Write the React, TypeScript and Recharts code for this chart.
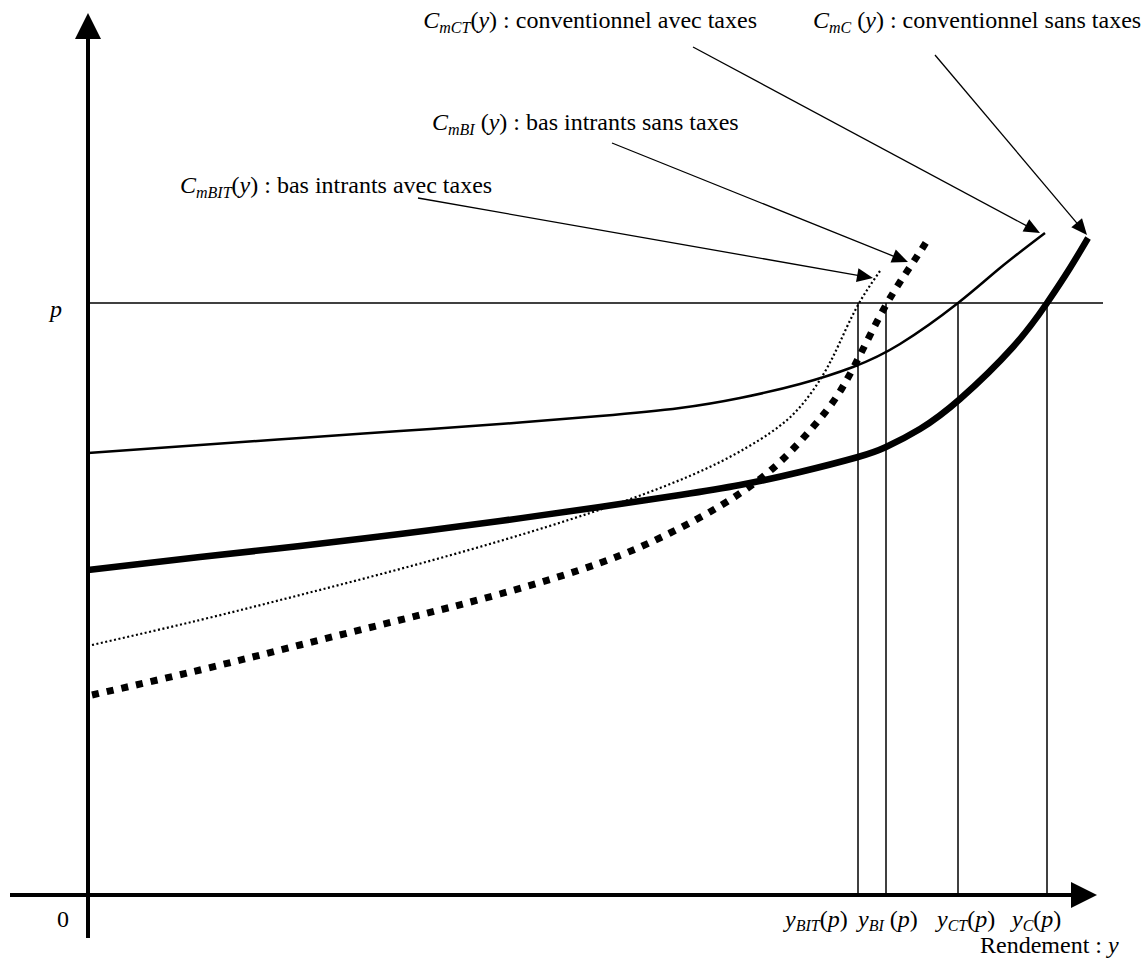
import { LineChart, Line, XAxis, YAxis, ReferenceLine, ReferenceDot } from "recharts";

type Pt = { x: number; y: number };

// price level p and the yields where each marginal cost curve meets it
const P = 592;
const yieldAtP = [770, 798, 870, 959];

// C_mC(y) : conventionnel sans taxes (thick solid)
const convSansTaxes: Pt[] = [
  { x: 0, y: 325 }, { x: 112, y: 338 }, { x: 212, y: 349 }, { x: 312, y: 361 },
  { x: 412, y: 374 }, { x: 512, y: 388 }, { x: 592, y: 400 }, { x: 652, y: 410 },
  { x: 712, y: 423 }, { x: 770, y: 438 }, { x: 798, y: 448 }, { x: 832, y: 466 },
  { x: 872, y: 496 }, { x: 925, y: 548 }, { x: 959, y: 592 }, { x: 982, y: 627 },
  { x: 1000, y: 657 },
];

// C_mCT(y) : conventionnel avec taxes (thin solid)
const convAvecTaxes: Pt[] = [
  { x: 0, y: 442 }, { x: 112, y: 450 }, { x: 212, y: 457 }, { x: 312, y: 464 },
  { x: 412, y: 471 }, { x: 512, y: 479 }, { x: 592, y: 487 }, { x: 652, y: 497 },
  { x: 712, y: 511 }, { x: 765, y: 528 }, { x: 812, y: 551 }, { x: 870, y: 592 },
  { x: 912, y: 627 }, { x: 957, y: 662 },
];

// C_mBI(y) : bas intrants sans taxes (heavy square dashes)
const basSansTaxes: Pt[] = [
  { x: 4, y: 200 }, { x: 112, y: 225 }, { x: 212, y: 250 }, { x: 312, y: 275 },
  { x: 412, y: 301 }, { x: 512, y: 332 }, { x: 582, y: 362 }, { x: 632, y: 389 },
  { x: 672, y: 416 }, { x: 705, y: 446 }, { x: 739, y: 485 }, { x: 757, y: 512 },
  { x: 772, y: 540 }, { x: 798, y: 590 }, { x: 822, y: 628 }, { x: 839, y: 654 },
];

// C_mBIT(y) : bas intrants avec taxes (fine dots)
const basAvecTaxes: Pt[] = [
  { x: 4, y: 250 }, { x: 112, y: 275 }, { x: 212, y: 300 }, { x: 312, y: 326 },
  { x: 412, y: 354 }, { x: 502, y: 382 }, { x: 572, y: 407 }, { x: 632, y: 433 },
  { x: 682, y: 462 }, { x: 712, y: 488 }, { x: 735, y: 520 }, { x: 752, y: 553 },
  { x: 770, y: 590 }, { x: 792, y: 624 },
];

// callout texts: subscript, gap before "(y)", text after "(y)"
const curveSubs = ["mCT", "mC", "mBI", "mBIT"];
const curveGap = ["", " ", " ", ""];
const curveText = [
  " : conventionnel avec taxes",
  " : conventionnel sans taxes",
  " : bas intrants sans taxes",
  " : bas intrants avec taxes",
];
const calloutAt: Pt[] = [
  { x: 669, y: 867 }, { x: 725, y: 867 }, { x: 344, y: 765 }, { x: 92, y: 702 },
];
const calloutAnchor = ["end", "start", "start", "start"];
const calloutFrom: Pt[] = [
  { x: 605, y: 848 }, { x: 847, y: 840 }, { x: 524, y: 752 }, { x: 330, y: 697 },
];
const calloutTo: Pt[] = [
  { x: 952, y: 662 }, { x: 999, y: 660 }, { x: 820, y: 633 }, { x: 785, y: 617 },
];

// labels under the x axis
const tickSubs = ["BIT", "BI", "CT", "C"];
const tickGap = ["", " ", "", ""];
const tickStart = [697, 770, 849, 924];

const W = 1147;
const H = 960;
const FONT = "'Liberation Serif', 'Times New Roman', serif";
const FS = 24;
const SUB = 16;

function arrow(head: number, half: number, sw: number) {
  return (props: any) => {
    const { x1, y1, x2, y2 } = props;
    const dx = x2 - x1;
    const dy = y2 - y1;
    const len = Math.hypot(dx, dy) || 1;
    const ux = dx / len;
    const uy = dy / len;
    const bx = x2 - ux * head;
    const by = y2 - uy * head;
    const nx = -uy * half;
    const ny = ux * half;
    return (
      <g>
        <line x1={x1} y1={y1} x2={bx + ux * 2} y2={by + uy * 2} stroke="#000" strokeWidth={sw} />
        <polygon points={`${x2},${y2} ${bx + nx},${by + ny} ${bx - nx},${by - ny}`} fill="#000" />
      </g>
    );
  };
}

function textShape(render: (x: number, y: number) => any) {
  return (props: any) => render(props.cx, props.cy);
}

export default function App() {
  return (
    <div style={{ width: W, height: H, background: "#fff" }}>
      <style>{"body{margin:0;background:#fff}"}</style>
      <LineChart width={W} height={H} margin={{ top: 0, right: 0, bottom: 0, left: 0 }}>
        <XAxis type="number" dataKey="x" domain={[-88, 1059]} hide />
        <YAxis type="number" dataKey="y" domain={[-65, 895]} hide />

        {/* axes */}
        <ReferenceLine segment={[{ x: 0, y: -43 }, { x: 0, y: 882 }]} shape={arrow(26, 13, 4)} />
        <ReferenceLine segment={[{ x: -78, y: 0 }, { x: 1009, y: 0 }]} shape={arrow(26, 13, 4)} />

        {/* price line and yields */}
        <ReferenceLine segment={[{ x: 0, y: P }, { x: 1015, y: P }]} stroke="#000" strokeWidth={1.5} />
        {yieldAtP.map((v) => (
          <ReferenceLine key={v} segment={[{ x: v, y: 0 }, { x: v, y: P }]} stroke="#000" strokeWidth={1.5} />
        ))}

        <Line data={convAvecTaxes} dataKey="y" type="natural" stroke="#000" strokeWidth={2.5}
          dot={false} activeDot={false} isAnimationActive={false} />
        <Line data={convSansTaxes} dataKey="y" type="natural" stroke="#000" strokeWidth={6.5}
          dot={false} activeDot={false} isAnimationActive={false} />
        <Line data={basAvecTaxes} dataKey="y" type="natural" stroke="#000" strokeWidth={2.2}
          strokeDasharray="2 2.5" dot={false} activeDot={false} isAnimationActive={false} />
        <Line data={basSansTaxes} dataKey="y" type="natural" stroke="#000" strokeWidth={7}
          strokeDasharray="7 8" dot={false} activeDot={false} isAnimationActive={false} />

        {/* callouts */}
        {calloutFrom.map((f, i) => (
          <ReferenceLine key={`a${i}`} segment={[f, calloutTo[i]]} shape={arrow(16, 7, 1.3)} />
        ))}
        {calloutAt.map((pt, i) => (
          <ReferenceDot
            key={`t${i}`}
            x={pt.x}
            y={pt.y}
            r={0}
            shape={textShape((x, y) => (
              <text x={x} y={y} fontFamily={FONT} fontSize={FS} fill="#000" textAnchor={calloutAnchor[i]}>
                <tspan fontStyle="italic">C</tspan>
                <tspan fontStyle="italic" fontSize={SUB} dy={5}>{curveSubs[i]}</tspan>
                <tspan dy={-5}>{curveGap[i]}(</tspan>
                <tspan fontStyle="italic">y</tspan>
                <tspan>){curveText[i]}</tspan>
              </text>
            ))}
          />
        ))}

        {/* axis labels */}
        {tickStart.map((x, i) => (
          <ReferenceDot
            key={`k${i}`}
            x={x}
            y={-32}
            r={0}
            shape={textShape((px, py) => (
              <text x={px} y={py} fontFamily={FONT} fontSize={FS} fill="#000">
                <tspan fontStyle="italic">y</tspan>
                <tspan fontStyle="italic" fontSize={SUB} dy={4}>{tickSubs[i]}</tspan>
                <tspan dy={-4}>{tickGap[i]}(</tspan>
                <tspan fontStyle="italic">p</tspan>
                <tspan>)</tspan>
              </text>
            ))}
          />
        ))}
        <ReferenceDot
          x={892}
          y={-58}
          r={0}
          shape={textShape((x, y) => (
            <text x={x} y={y} fontFamily={FONT} fontSize={FS} fill="#000">
              Rendement : <tspan fontStyle="italic">y</tspan>
            </text>
          ))}
        />
        <ReferenceDot
          x={-38}
          y={578}
          r={0}
          shape={textShape((x, y) => (
            <text x={x} y={y} fontFamily={FONT} fontSize={FS} fontStyle="italic" fill="#000">p</text>
          ))}
        />
        <ReferenceDot
          x={-31}
          y={-32}
          r={0}
          shape={textShape((x, y) => (
            <text x={x} y={y} fontFamily={FONT} fontSize={FS} fill="#000">0</text>
          ))}
        />
      </LineChart>
    </div>
  );
}
